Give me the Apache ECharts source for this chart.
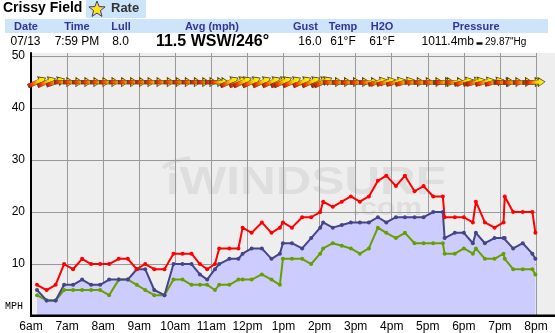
<!DOCTYPE html>
<html><head><meta charset="utf-8">
<script src="https://cdn.jsdelivr.net/npm/echarts/dist/echarts.min.js"></script>
<style>html,body{margin:0;padding:0;background:#fff}#c{width:555px;height:333px}</style>
</head><body><div id="c"></div>
<script>
// ---- data ----
const times = ['6:10','6:26','6:41','6:55','7:10','7:25','7:40','7:55','8:10','8:26',
  '8:41','8:56','9:10','9:25','9:42','9:57','10:12','10:27','10:41','10:53',
  '11:06','11:13','11:30','11:45','11:52','12:07','12:24','12:40','12:54','12:59',
  '13:14','13:31','13:46','14:01','14:06','14:22','14:37','14:52','15:07','15:22',
  '15:37','15:51','16:07','16:22','16:38','16:53','17:09','17:25','17:28','17:45',
  '18:00','18:15','18:20','18:35','18:51','19:06','19:08','19:22','19:38','19:54','19:59'];
const gust = [6,5,6,10,9,11,10,10,10,11, 11,9,10,9,9,12,12,12,10,9, 10,13,13,13,17,16,18,16,17,18,
  17,19,19,20,22,21,22,23,22,23, 26,27,25,27,24,25,23,23,19,19, 19,18,22,18,17,18,23,20,20,20,16];
const avg = [5,3,3,6,6,7,6,6,7,7, 7,9,9,5,4,10,10,10,8,7, 9,10,11,11,12,13,13,11,12,14,
  14,13,15,17,18,17,17.5,18,18,18, 19,18,19,19,19,19,20,20,15,16, 16,14,16,14,15,15,15,13,14,12,11];
const lull = [4,3,3,5,5,5,5,5,4,7, 7,6,5,4,4,7,7,6,6,6, 5,6,6,7,7,7,8,7,6,11,
  11,11,10,12,13,14,13.5,13,12,13, 17,16,15,16,14,14,14,14,12,12, 13,12,13,11,11,12,11,9,9,9,8];
const dirs = [245,247,250,270,270,270,270,270,270,270, 270,270,270,270,270,270,270,270,270,270,
  270,270,245,245,245,245,245,245,245,245, 245,245,245,245,245,268,268,268,268,268,
  255,255,255,255,268,268,268,268,268,268, 255,255,255,255,255,268,268,268,268,268,268];
const arrowLevel = 45;
const xTickLabels = ['6am','7am','8am','9am','10am','11am','12pm','1pm','2pm','3pm','4pm','5pm','6pm','7pm','8pm'];
const yTickLabels = ['', '10', '20', '30', '40', '50'];

// header info
const headLabels = ['Date','Time','Lull','Avg (mph)','Gust','Temp','H2O','Pressure'];
const headValues = ['07/13','7:59 PM','8.0','11.5 WSW/246°','16.0','61°F','61°F'];
const pressureMb = '1011.4mb', pressureHg = '29.87"Hg';

// ---- build ----
const toMin = s => { const p = s.split(':').map(Number); return p[0]*60 + p[1]; };
const xs = times.map(toMin);
const pair = arr => xs.map((x, i) => [x, arr[i]]);

const FONT = "'Liberation Sans', Arial, sans-serif";
function T(text, x, y, font, fill, align) {
  return { type: 'text', z: 50, style: { text, x, y, font, fill,
    textAlign: align || 'center', align: align || 'center',
    textVerticalAlign: 'middle', verticalAlign: 'middle' } };
}
// star
const starPts = [];
for (let i = 0; i < 10; i++) {
  const r = i % 2 === 0 ? 8.5 : 3.6;
  const a = -Math.PI / 2 + i * Math.PI / 5;
  starPts.push([97 + r * Math.cos(a), 9.5 + r * Math.sin(a)]);
}
const headX = [26, 77, 121, 212, 305.5, 343, 382, 476];
const valX = [25.5, 77, 120.5, 212.5, 310, 343, 382];

const graphics = [
  { type: 'rect', z: -10, shape: { x: 31, y: 53, width: 524, height: 263 }, style: { fill: '#eeeeee' } },
  { type: 'text', z: -5, scaleX: 1.3, scaleY: 1, originX: 166, originY: 184,
    style: { text: 'iWINDSURF', x: 166, y: 184, font: "bold 38px " + FONT, fill: '#dedede',
      textAlign: 'left', align: 'left', textVerticalAlign: 'middle', verticalAlign: 'middle' } },
  { type: 'text', z: -5, scaleX: 1.25, scaleY: 1, originX: 352, originY: 208,
    style: { text: '.com', x: 352, y: 208, font: "bold 24px " + FONT, fill: '#dedede',
      textAlign: 'left', align: 'left', textVerticalAlign: 'middle', verticalAlign: 'middle' } },
  { type: 'bezierCurve', z: -5, shape: { x1: 163, y1: 168, x2: 190, y2: 158, cpx1: 172, cpy1: 160 },
    style: { stroke: '#dedede', lineWidth: 4, fill: null } },
  { type: 'rect', z: 100, shape: { x: 30, y: 314.5, width: 525, height: 2.6 }, style: { fill: '#000' } },
  // header
  { type: 'rect', z: 40, shape: { x: 86, y: 0, width: 60, height: 18 }, style: { fill: '#cce5fa' } },
  { type: 'rect', z: 40, shape: { x: 5, y: 19, width: 543, height: 14 }, style: { fill: '#cce5fa' } },
  { type: 'polygon', z: 50, shape: { points: starPts }, style: { fill: '#ffe01a', stroke: '#3a3a80', lineWidth: 1 } },
  T('Crissy Field', 3, 8, 'bold 14px ' + FONT, '#000', 'left'),
  T('Rate', 111, 8, 'bold 13px ' + FONT, '#333', 'left'),
  T('MPH', 5, 306, "10px 'Liberation Mono', monospace", '#000', 'left'),
  T(pressureMb, 421.5, 41.5, '12px ' + FONT, '#000', 'left'),
  { type: 'rect', z: 50, shape: { x: 476.5, y: 42.3, width: 6, height: 2.4 }, style: { fill: '#000' } },
  T(pressureHg, 485, 42.5, '10px ' + FONT, '#000', 'left')
];
headLabels.forEach((s, i) => graphics.push(T(s, headX[i], 26.5, 'bold 11px ' + FONT, '#333399')));
headValues.forEach((s, i) => graphics.push(T(s, valX[i], 41.5,
  (i === 3 ? 'bold 16px ' : '12px ') + FONT, '#000')));

const arrowPath = 'path://M0,4.5L26,4.5L26,0L40,8L26,16L26,11.5L0,11.5Z';
const arrowGrad = new echarts.graphic.LinearGradient(0, 0, 1, 0, [
  { offset: 0, color: '#d80000' }, { offset: 0.25, color: '#ff4a00' },
  { offset: 0.55, color: '#ffd000' }, { offset: 1, color: '#ffff20' }]);

const lineSeries = (name, arr, color, extra) => Object.assign({
  name, type: 'line', data: pair(arr), symbol: 'circle', symbolSize: 4, showSymbol: true,
  lineStyle: { color, width: 2 }, itemStyle: { color }, z: 3, animation: false
}, extra || {});

const option = {
  animation: false,
  grid: { left: 31, right: 19, top: 53, bottom: 17 },
  xAxis: {
    type: 'value', min: 360, max: 1200, interval: 60,
    axisLine: { show: false }, axisTick: { show: false },
    axisLabel: { formatter: v => xTickLabels[Math.round((v - 360) / 60)] || '', color: '#000',
      fontSize: 12, fontFamily: FONT, margin: 5 },
    splitLine: { show: true, showMinLine: true, showMaxLine: true, lineStyle: { color: '#999', width: 1 } }
  },
  yAxis: {
    type: 'value', min: 0, max: 50.6, interval: 10,
    axisLine: { show: true, lineStyle: { color: '#000', width: 2 } }, axisTick: { show: false },
    axisLabel: { formatter: v => (Math.abs(v % 10) < 1e-6 ? (yTickLabels[Math.round(v / 10)] || '') : ''),
      color: '#000', fontSize: 12, fontFamily: FONT, margin: 6 },
    splitLine: { show: true, showMinLine: false, showMaxLine: false, lineStyle: { color: '#999', width: 1 } }
  },
  graphic: { elements: graphics },
  series: [
    { type: 'line', data: pair(avg), symbol: 'none', lineStyle: { width: 0 },
      areaStyle: { color: '#ccccff', opacity: 1 }, z: 2, animation: false },
    lineSeries('Lull', lull, '#66a000'),
    lineSeries('Avg', avg, '#444488'),
    lineSeries('Gust', gust, '#ff0000'),
    { type: 'scatter', z: 4, animation: false, symbol: arrowPath, symbolSize: [19, 9],
      itemStyle: { color: arrowGrad, borderColor: '#4a4a20', borderWidth: 0.7, opacity: 1 },
      data: xs.map((x, i) => ({ value: [x, arrowLevel], symbolRotate: 270 - dirs[i] })) }
  ]
};
const chart = echarts.init(document.getElementById('c'));
chart.setOption(option);
</script></body></html>
